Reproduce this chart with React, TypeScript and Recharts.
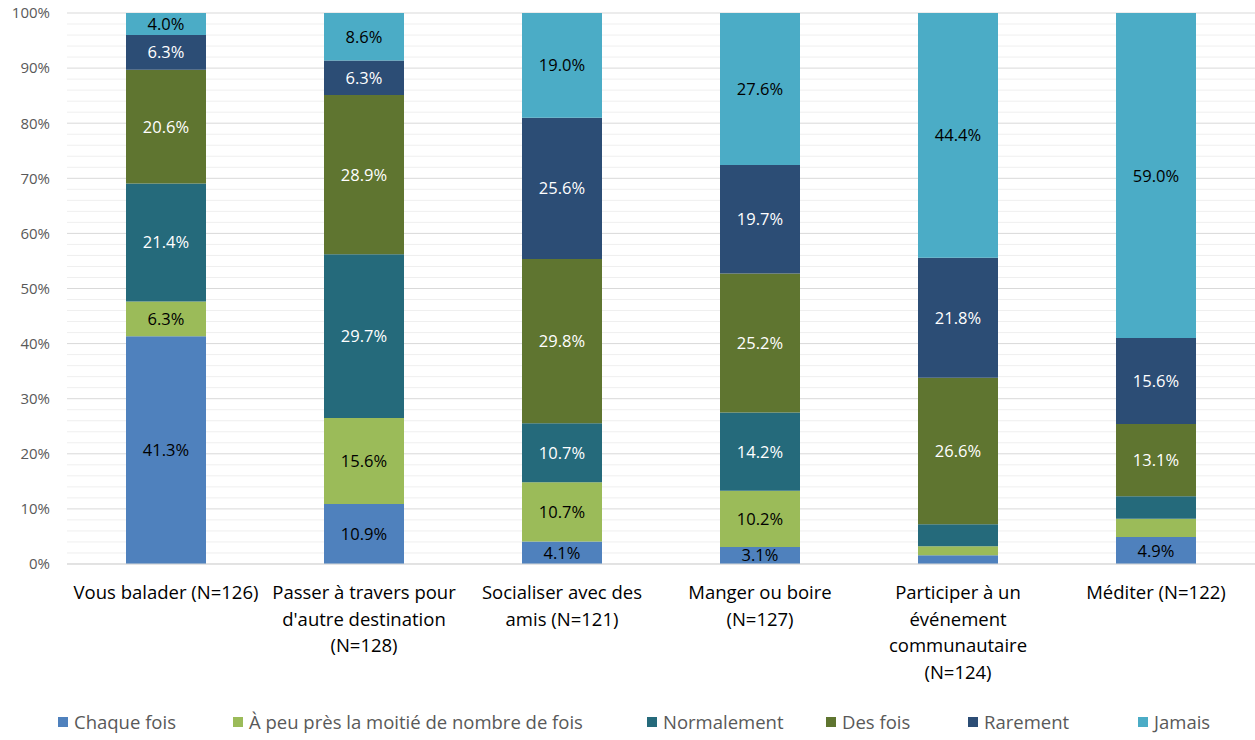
import React from "react";
import { BarChart, Bar, XAxis, YAxis, CartesianGrid, LabelList, Legend } from "recharts";

const categories = [
  "Vous balader (N=126)",
  "Passer à travers pour d'autre destination (N=128)",
  "Socialiser avec des amis (N=121)",
  "Manger ou boire (N=127)",
  "Participer à un événement communautaire (N=124)",
  "Méditer (N=122)",
];
const categoryLines = [
  ["Vous balader (N=126)"],
  ["Passer à travers pour", "d'autre destination", "(N=128)"],
  ["Socialiser avec des", "amis (N=121)"],
  ["Manger ou boire", "(N=127)"],
  ["Participer à un", "événement", "communautaire", "(N=124)"],
  ["Méditer (N=122)"],
];

const seriesNames = [
  "Chaque fois",
  "À peu près la moitié de nombre de fois",
  "Normalement",
  "Des fois",
  "Rarement",
  "Jamais",
];
const chaqueFois = [41.3, 10.9, 4.1, 3.1, 1.6, 4.9];
const moitie = [6.3, 15.6, 10.7, 10.2, 1.6, 3.3];
const normalement = [21.4, 29.7, 10.7, 14.2, 4.0, 4.1];
const desFois = [20.6, 28.9, 29.8, 25.2, 26.6, 13.1];
const rarement = [6.3, 6.3, 25.6, 19.7, 21.8, 15.6];
const jamais = [4.0, 8.6, 19.0, 27.6, 44.4, 59.0];

// labels not shown in the original: [seriesIndex, categoryIndex]
const hiddenLabels = [
  [0, 4],
  [1, 4],
  [1, 5],
  [2, 4],
  [2, 5],
];

const yTicks = [0, 0.1, 0.2, 0.3, 0.4, 0.5, 0.6, 0.7, 0.8, 0.9, 1];
const minorTicks = [0.02, 0.04, 0.06, 0.08, 0.12, 0.14, 0.16, 0.18, 0.22, 0.24, 0.26, 0.28, 0.32, 0.34, 0.36, 0.38, 0.42, 0.44, 0.46, 0.48, 0.52, 0.54, 0.56, 0.58, 0.62, 0.64, 0.66, 0.68, 0.72, 0.74, 0.76, 0.78, 0.82, 0.84, 0.86, 0.88, 0.92, 0.94, 0.96, 0.98];

const seriesValues = [chaqueFois, moitie, normalement, desFois, rarement, jamais];
const seriesKeys = ["s0", "s1", "s2", "s3", "s4", "s5"];
const colors = ["#4F81BD", "#9BBB59", "#256A7B", "#5F7530", "#2C4D75", "#4BACC6"];
const labelColors = ["#000000", "#000000", "#FFFFFF", "#FFFFFF", "#FFFFFF", "#000000"];

const data = categories.map((c, i) => {
  const row: any = { name: c, idx: i };
  seriesValues.forEach((vals, s) => {
    row[seriesKeys[s]] = vals[i];
    const hidden = hiddenLabels.some(([hs, hc]) => hs === s && hc === i);
    row[seriesKeys[s] + "L"] = hidden ? null : vals[i];
  });
  return row;
});

const FONT = "'Open Sans', sans-serif";

const CategoryTick = (props: any) => {
  const { x, y, payload } = props;
  const lines = categoryLines[payload.index] ?? [payload.value];
  return (
    <g>
      {lines.map((l: string, k: number) => (
        <text key={k} x={x} y={y + 27 + k * 26.7} textAnchor="middle" fontFamily={FONT} fontSize={18.5} fill="#000000">
          {l}
        </text>
      ))}
    </g>
  );
};

const makeLabel = (s: number) => (props: any) => {
  const { x, y, width, height, value } = props;
  if (value === null || value === undefined) return null;
  const cx = Number(x) + Number(width) / 2;
  const cy = Number(y) + Number(height) / 2;
  return (
    <text x={cx} y={cy} dy={6} textAnchor="middle" fontFamily={FONT} fontSize={16.5} fill={labelColors[s]}>
      {Number(value).toFixed(1)}%
    </text>
  );
};

const legendLefts = [58, 233, 647, 826, 968, 1138];

const LegendContent = () => (
  <div style={{ position: "relative", width: 1255, height: 40 }}>
    {seriesNames.map((n, i) => (
      <div
        key={n}
        style={{ position: "absolute", left: legendLefts[i], top: 9, display: "flex", alignItems: "center", fontFamily: FONT, fontSize: 18.5, color: "#595959", whiteSpace: "nowrap" }}
      >
        <span style={{ display: "inline-block", width: 10, height: 10, background: colors[i], marginRight: 6 }} />
        {n}
      </div>
    ))}
  </div>
);

const minorGenerator = (props: any) => {
  const scale = props?.yAxis?.scale;
  if (!scale) return [];
  const fn = typeof scale === "function" ? scale : scale.map ? (v: number) => scale.map(v) : null;
  if (!fn) return [];
  return minorTicks.map((t) => fn(t));
};

export default function App() {
  return (
    <div style={{ position: "absolute", left: 0, top: 0, width: 1255, height: 740, background: "#fff" }}>
      <BarChart
        width={1255}
        height={740}
        data={data}
        stackOffset="expand"
        margin={{ top: 13, right: 0, left: 0, bottom: 0 }}
        barSize={80}
      >
        <CartesianGrid vertical={false} stroke="#EFEFEF" horizontalCoordinatesGenerator={minorGenerator} />
        <CartesianGrid vertical={false} stroke="#D9D9D9" />
        <XAxis
          dataKey="name"
          interval={0}
          height={136}
          tickLine={false}
          axisLine={{ stroke: "#D9D9D9" }}
          tick={<CategoryTick />}
        />
        <YAxis
          width={67}
          domain={[0, 1]}
          ticks={yTicks}
          tickFormatter={(v: number) => `${Math.round(v * 100)}%`}
          tickLine={false}
          axisLine={false}
          tickMargin={11}
          tick={{ fontFamily: FONT, fontSize: 15, fill: "#595959" }}
        />
        <Legend verticalAlign="bottom" height={40} content={<LegendContent />} />
        {seriesKeys.map((k, s) => (
          <Bar key={k} dataKey={k} name={seriesNames[s]} stackId="a" fill={colors[s]} isAnimationActive={false}>
            <LabelList dataKey={k + "L"} content={makeLabel(s)} />
          </Bar>
        ))}
      </BarChart>
    </div>
  );
}
